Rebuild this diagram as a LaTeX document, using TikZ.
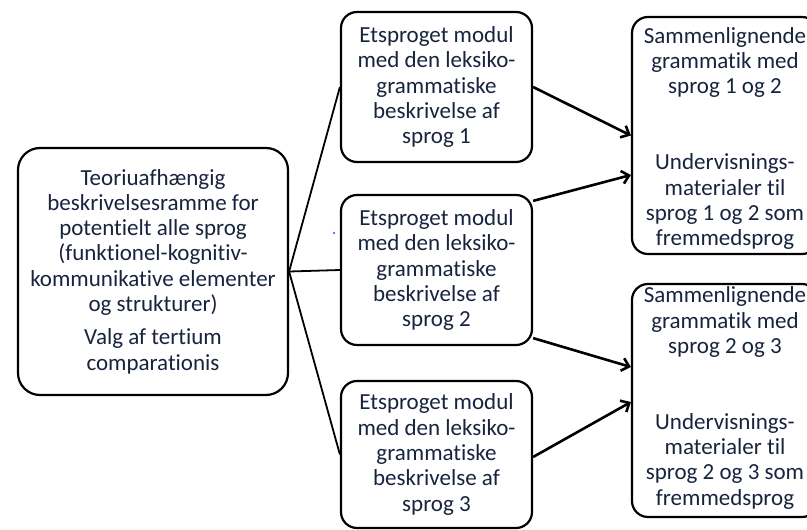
\documentclass[tikz,border=0pt]{standalone}
\usepackage{fontspec}
\setmainfont{Carlito}[Ligatures=NoCommon]
\usetikzlibrary{arrows.meta,calc}
\definecolor{txt}{RGB}{24,36,62}
\definecolor{dotc}{RGB}{112,112,224}
\begin{document}
\begin{tikzpicture}[x=1pt,y=-1pt,
  box/.style={draw=black,line width=2.2pt,rectangle,rounded corners=16pt,inner sep=0pt},
  bigbox/.style={box,rounded corners=22pt},
  txtnode/.style={text=txt,align=center,inner sep=0pt,font=\fontsize{23}{25.3}\selectfont},
  link/.style={draw=black,line width=1.8pt},
  arr/.style={draw=black,line width=2.6pt,-{Straight Barb[length=7pt,width=13pt,line width=2.6pt]}}
]
\clip (0,0) rectangle (807,530);
\fill[white] (0,0) rectangle (807,530);

% boxes
\node[bigbox,minimum width=270pt,minimum height=247pt] (L) at (153,271.5) {};
\node[box,minimum width=191pt,minimum height=150pt] (M1) at (436.5,87) {};
\node[box,minimum width=191pt,minimum height=150pt] (M2) at (436.5,270) {};
\node[box,minimum width=191pt,minimum height=147pt] (M3) at (436.5,454.5) {};
\node[box,minimum width=186pt,minimum height=237pt] (R1) at (725,135.5) {};
\node[box,minimum width=186pt,minimum height=233pt] (R2) at (725,400.5) {};

% texts
\node[txtnode] (tL) at (L.center) {Teoriuafhængig\\beskrivelsesramme for\\potentielt alle sprog\\(funktionel-kognitiv-\\kommunikative elementer\\og strukturer)\\[8pt]Valg af tertium\\comparationis};
\node[txtnode] (t1) at (M1.center) {Etsproget modul\\med den leksiko-\\grammatiske\\beskrivelse af\\sprog 1};
\node[txtnode] (t2) at (M2.center) {Etsproget modul\\med den leksiko-\\grammatiske\\beskrivelse af\\sprog 2};
\node[txtnode] (t3) at (M3.center) {Etsproget modul\\med den leksiko-\\grammatiske\\beskrivelse af\\sprog 3};
\node[txtnode,yshift=-3pt] (tR1) at (R1.center) {Sammenlignende\\grammatik med\\sprog 1 og 2\\[50.6pt]Undervisnings-\\materialer til\\sprog 1 og 2 som\\fremmedsprog};
\node[txtnode,yshift=2.5pt] (tR2) at (R2.center) {Sammenlignende\\grammatik med\\sprog 2 og 3\\[50.6pt]Undervisnings-\\materialer til\\sprog 2 og 3 som\\fremmedsprog};

% stray dot
\fill[dotc] (334,233) circle (1.3pt);

% links
\draw[link] (L.east) -- (M1.west);
\draw[link] (L.east) -- (M2.west);
\draw[link] (L.east) -- (M3.west);

% arrows
\draw[arr] (M1.east) -- (R1.west);
\draw[arr] ($(M2.north east)+(0,7)$) -- ($(R1.west)+(0,39.5)$);
\draw[arr] ($(M2.south east)+(0,-8)$) -- ($(R2.west)+(0,-33.5)$);
\draw[arr] ($(M3.east)+(0,2.5)$) -- ($(R2.west)+(0,1.5)$);
\end{tikzpicture}
\end{document}
